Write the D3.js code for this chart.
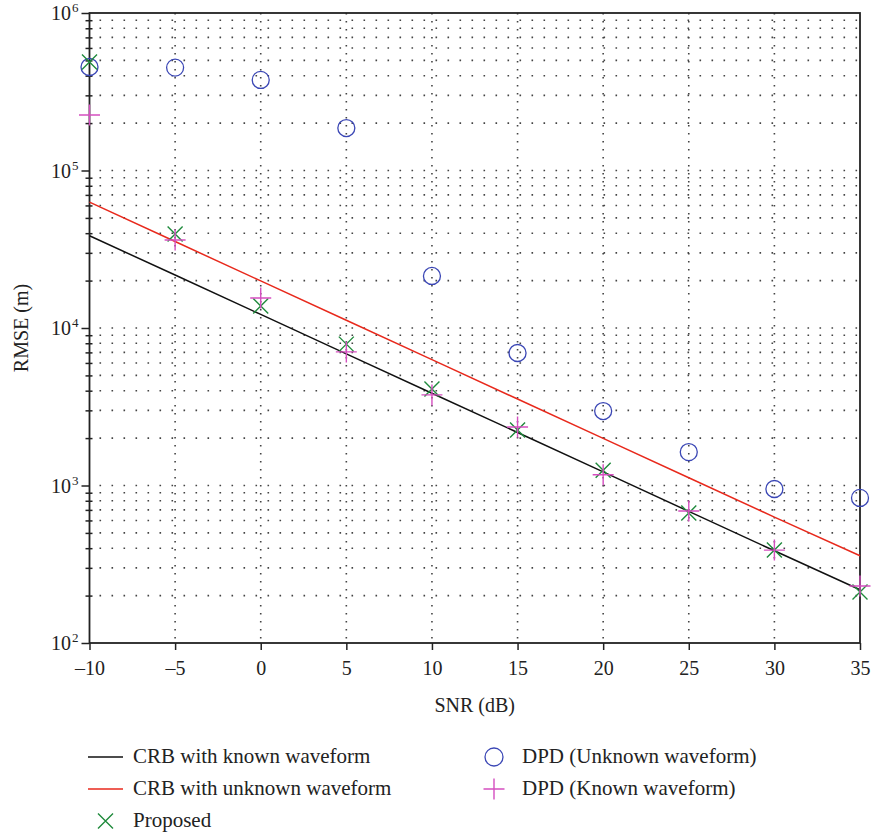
<!DOCTYPE html>
<html>
<head>
<meta charset="utf-8">
<script src="https://cdn.jsdelivr.net/npm/d3@7"></script>
<style>
  body { margin: 0; background: #fff; }
  svg text { font-family: "Liberation Serif", "DejaVu Serif", serif; fill: #222; }
</style>
</head>
<body>
<script>
// SNR values (dB)
var snr = [-10, -5, 0, 5, 10, 15, 20, 25, 30, 35];
// RMSE (m)
var crbKnown   = [38500, 21700, 12200, 6850, 3850, 2170, 1220, 685, 385, 218];
var crbUnknown = [63000, 35400, 19900, 11200, 6300, 3540, 1990, 1120, 630, 358];
var proposed   = [489000, 39500, 13800, 7900, 4100, 2250, 1250, 668, 389, 211];
var dpdUnknown = [454000, 450000, 376000, 186000, 21400, 6940, 2970, 1630, 950, 834];
var dpdKnown   = [225000, 36200, 15500, 7050, 3760, 2350, 1170, 689, 389, 230];
var xTicks = [-10, -5, 0, 5, 10, 15, 20, 25, 30, 35];
var yMajor = [100, 1000, 10000, 100000, 1000000];

var W = 874, H = 837;
var margin = {top: 13, right: 14, bottom: 194, left: 89.5};
var width = W - margin.left - margin.right,
    height = H - margin.top - margin.bottom;

var svg = d3.select("body").append("svg")
    .attr("width", W)
    .attr("height", H);
var g = svg.append("g")
    .attr("transform", "translate(" + margin.left + "," + margin.top + ")");

var x = d3.scaleLinear().domain([-10, 35]).range([0, width]);
var y = d3.scaleLog().domain([100, 1000000]).range([height, 0]);

// minor values 2..9 x each decade, plus decades
var yGrid = [];
yMajor.forEach(function(d, i) {
  yGrid.push(d);
  if (i < yMajor.length - 1) for (var k = 2; k <= 9; k++) yGrid.push(d * k);
});

// grid
g.append("g").selectAll("line.h")
    .data(yGrid.filter(function(d) { return d > 100 && d < 1000000; }))
  .enter().append("line")
    .attr("x1", 0).attr("x2", width)
    .attr("y1", function(d) { return y(d); })
    .attr("y2", function(d) { return y(d); })
    .style("stroke", "#444")
    .style("stroke-width", 1.6)
    .style("stroke-dasharray", "1.6,10.4")
    .style("stroke-dashoffset", -10);
g.append("g").selectAll("line.v")
    .data(xTicks.slice(1, -1))
  .enter().append("line")
    .attr("x1", function(d) { return x(d); })
    .attr("x2", function(d) { return x(d); })
    .attr("y1", 0).attr("y2", height)
    .style("stroke", "#444")
    .style("stroke-width", 1.6)
    .style("stroke-dasharray", "1.6,6.4");

// axes
var xAxis = d3.axisBottom(x).tickValues(xTicks).tickSize(7).tickSizeOuter(0)
    .tickFormat(function(d) { return d < 0 ? "\u2013" + (-d) : d; });
var gx = g.append("g")
    .attr("transform", "translate(0," + height + ")")
    .call(xAxis);
gx.select(".domain").remove();
gx.selectAll("line").style("stroke", "#222").style("stroke-width", 1.5);
gx.selectAll("text").style("font-size", "20px").attr("y", 18).attr("dy", "0.71em");

var yAxis = d3.axisLeft(y).tickValues(yGrid).tickSizeOuter(0).tickFormat("");
var gy = g.append("g").call(yAxis);
gy.select(".domain").remove();
gy.selectAll(".tick line")
    .attr("x1", function(d) { return yMajor.indexOf(d) >= 0 ? 0 : 3; })
    .attr("x2", function(d) { return yMajor.indexOf(d) >= 0 ? -8 : -4; })
    .style("stroke", "#222").style("stroke-width", 1.5);

var yLab = g.append("g").selectAll("g")
    .data(yMajor)
  .enter().append("g")
    .attr("transform", function(d) { return "translate(-18.5," + y(d) + ")"; });
yLab.append("text")
    .attr("y", 7)
    .style("text-anchor", "end")
    .style("font-size", "20px")
    .text("10");
yLab.append("text")
    .attr("x", 1).attr("y", -1)
    .style("font-size", "13px")
    .text(function(d) { return Math.round(Math.log10(d)); });

// frame
g.append("rect")
    .attr("x", 0).attr("y", 0)
    .attr("width", width).attr("height", height)
    .style("fill", "none")
    .style("stroke", "#222")
    .style("stroke-width", 1.8);

// axis titles
svg.append("text")
    .attr("transform", "translate(28," + (margin.top + height / 2) + ") rotate(-90)")
    .style("text-anchor", "middle")
    .style("font-size", "20px")
    .text("RMSE (m)");
svg.append("text")
    .attr("x", margin.left + width / 2)
    .attr("y", 712)
    .style("text-anchor", "middle")
    .style("font-size", "20px")
    .text("SNR (dB)");

// lines
var line = function(vals) {
  return d3.line()
    .x(function(d, i) { return x(snr[i]); })
    .y(function(d) { return y(d); })(vals);
};
g.append("path").attr("d", line(crbUnknown))
    .style("fill", "none").style("stroke", "#e8291c").style("stroke-width", 1.5);
g.append("path").attr("d", line(crbKnown))
    .style("fill", "none").style("stroke", "#111").style("stroke-width", 1.5);

// markers
function circleMark(sel) {
  sel.append("circle").attr("r", 8.5)
    .style("fill", "none").style("stroke", "#3b47b5").style("stroke-width", 1.3);
}
function plusMark(sel) {
  sel.append("path").attr("d", "M-10.5,0H10.5M0,-10.5V10.5")
    .style("fill", "none").style("stroke", "#d54fc0").style("stroke-width", 1.4);
}
function xMark(sel) {
  sel.append("path").attr("d", "M-7.5,-7.5L7.5,7.5M-7.5,7.5L7.5,-7.5")
    .style("fill", "none").style("stroke", "#1f8a3c").style("stroke-width", 1.4);
}

function points(vals, mark) {
  g.append("g").selectAll("g")
      .data(vals)
    .enter().append("g")
      .attr("transform", function(d, i) { return "translate(" + x(snr[i]) + "," + y(d) + ")"; })
      .call(mark);
}
points(dpdUnknown, circleMark);
points(proposed, xMark);
points(dpdKnown, plusMark);

// legend
var leg = svg.append("g");
var items = [
  {label: "CRB with known waveform", type: "line", color: "#111", x: 88, y: 757},
  {label: "CRB with unknown waveform", type: "line", color: "#e8291c", x: 88, y: 789},
  {label: "Proposed", type: "x", x: 88, y: 821},
  {label: "DPD (Unknown waveform)", type: "circle", x: 476.5, y: 757},
  {label: "DPD (Known waveform)", type: "plus", x: 476.5, y: 789}
];
items.forEach(function(it) {
  var gi = leg.append("g").attr("transform", "translate(" + it.x + "," + it.y + ")");
  var tx = 45;
  if (it.type === "line") {
    gi.append("line").attr("x1", 0).attr("x2", 35)
      .style("stroke", it.color).style("stroke-width", 1.5);
  } else {
    var m = gi.append("g").attr("transform", "translate(17.5,0)");
    if (it.type === "x") xMark(m);
    if (it.type === "circle") m.call(function(s) {
      s.append("circle").attr("r", 9)
        .style("fill", "none").style("stroke", "#3b47b5").style("stroke-width", 1.3);
    });
    if (it.type === "plus") plusMark(m);
    if (it.type !== "x") tx = 45.5;
  }
  gi.append("text").attr("x", tx).attr("y", 5.5)
    .style("font-size", "21px")
    .text(it.label);
});
</script>
</body>
</html>
